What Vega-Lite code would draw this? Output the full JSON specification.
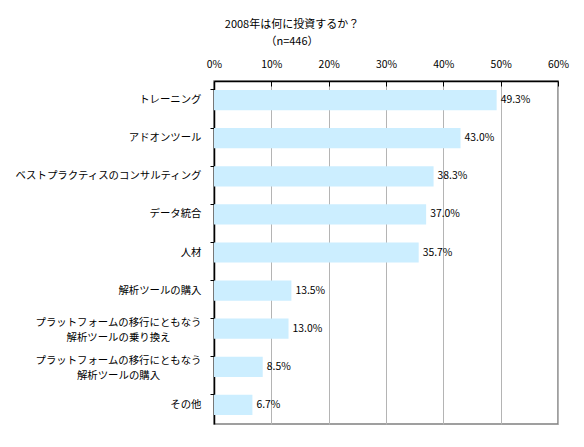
{
  "$schema": "https://vega.github.io/schema/vega-lite/v6.json",
  "description": "2008年は何に投資するか",
  "autosize": "none",
  "padding": {"left": 214, "top": 81, "right": 26, "bottom": 23},
  "width": 344,
  "height": 343,
  "background": "white",
  "title": {
    "text": ["2008年は何に投資するか？", "（n=446）"],
    "anchor": "middle",
    "dx": -94,
    "fontSize": 11,
    "fontWeight": "normal",
    "font": "Noto Sans CJK JP",
    "color": "black",
    "lineHeight": 17,
    "offset": 12
  },
  "config": {
    "view": {"stroke": "#808080", "strokeWidth": 1.5},
    "font": "Noto Sans CJK JP"
  },
  "data": {
    "values": [
      {"item": "トレーニング", "share": 0.493},
      {"item": "アドオンツール", "share": 0.430},
      {"item": "ベストプラクティスのコンサルティング", "share": 0.383},
      {"item": "データ統合", "share": 0.370},
      {"item": "人材", "share": 0.357},
      {"item": "解析ツールの購入", "share": 0.135},
      {"item": "プラットフォームの移行にともなう\n解析ツールの乗り換え", "share": 0.130},
      {"item": "プラットフォームの移行にともなう\n解析ツールの購入", "share": 0.085},
      {"item": "その他", "share": 0.067}
    ]
  },
  "encoding": {
    "y": {
      "field": "item",
      "type": "nominal",
      "sort": null,
      "title": null,
      "scale": {"paddingInner": 0.47, "paddingOuter": 0.235},
      "axis": {
        "domainColor": "black",
        "domainWidth": 1.5,
        "tickColor": "black",
        "tickSize": 4,
        "bandPosition": 0,
        "labelFontSize": 10.4,
        "labelColor": "black",
        "labelExpr": "split(datum.label, '\\n')",
        "labelLineHeight": 15,
        "labelLimit": 250,
        "labelAlign": {"condition": {"test": "indexof(datum.value, '\\n') >= 0", "value": "center"}, "value": "right"},
        "labelOffset": {"condition": {"test": "indexof(datum.value, '\\n') >= 0", "value": -6}, "value": 0},
        "labelPadding": {"condition": {"test": "indexof(datum.value, '\\n') >= 0", "value": 92}, "value": 9}
      }
    },
    "x": {
      "field": "share",
      "type": "quantitative",
      "title": null,
      "scale": {"domain": [0, 0.6], "nice": false},
      "axis": {
        "orient": "top",
        "format": "%",
        "values": [0, 0.1, 0.2, 0.3, 0.4, 0.5, 0.6],
        "labelOverlap": false,
        "labelFlush": false,
        "domainColor": "black",
        "domainWidth": 1.5,
        "tickColor": "black",
        "tickSize": -5,
        "labelPadding": 17,
        "labelFontSize": 10.4,
        "labelColor": "black",
        "gridColor": "#b4b4b4",
        "gridWidth": 1
      }
    }
  },
  "layer": [
    {"mark": {"type": "bar", "color": "#cceeff"}},
    {
      "mark": {"type": "text", "align": "left", "baseline": "middle", "dx": 4, "fontSize": 10.4, "color": "black"},
      "encoding": {"text": {"field": "share", "type": "quantitative", "format": ".1%"}}
    }
  ]
}
